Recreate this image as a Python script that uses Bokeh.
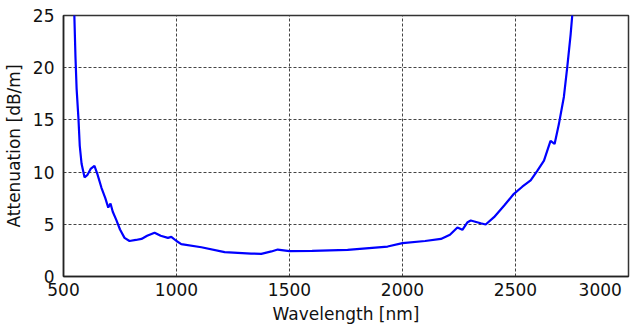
from bokeh.plotting import figure
from bokeh.models import Range1d, FixedTicker
from bokeh.embed import file_html
from bokeh.resources import INLINE

wavelength_nm = [540, 548, 553, 558, 566, 572, 580, 593, 605, 620, 637, 650, 668, 685, 698, 708,
                 718, 734, 750, 770, 792, 820, 845, 870, 903, 930, 962, 977, 1000, 1021, 1110,
                 1213, 1330, 1375, 1420, 1448, 1500, 1600, 1757, 1934, 2000, 2100, 2170, 2210,
                 2243, 2265, 2288, 2302, 2346, 2368, 2405, 2450, 2493, 2530, 2567, 2597, 2626,
                 2655, 2673, 2692, 2714, 2729, 2744, 2751, 2760]
attenuation_db_m = [30, 25, 21, 18, 15.2, 12.5, 10.8, 9.5, 9.7, 10.3, 10.6, 9.8, 8.5, 7.5, 6.6, 7.0,
                    6.2, 5.4, 4.5, 3.7, 3.4, 3.5, 3.6, 3.9, 4.2, 3.9, 3.7, 3.8, 3.4, 3.1, 2.8,
                    2.33, 2.2, 2.17, 2.4, 2.58, 2.43, 2.45, 2.55, 2.87, 3.19, 3.4, 3.6, 4.0,
                    4.7, 4.47, 5.2, 5.36, 5.1, 4.98, 5.68, 6.8, 7.92, 8.6, 9.2, 10.15, 11.1,
                    13.0, 12.7, 14.6, 17.2, 20.05, 23.2, 25, 30]

x_ticks = [500, 1000, 1500, 2000, 2500, 3000]
y_ticks = [0, 5, 10, 15, 20, 25]

FONT = "DejaVu Sans"
NBSP = "\u00a0"

p = figure(width=643, height=329, output_backend="svg", toolbar_location=None,
           x_range=Range1d(500, 3000), y_range=Range1d(0, 25),
           min_border_left=62, min_border_top=15, min_border_right=15, min_border_bottom=53)

p.line(wavelength_nm, attenuation_db_m, line_color="#0000ff", line_width=2.2)

p.xaxis.ticker = FixedTicker(ticks=x_ticks)
p.yaxis.ticker = FixedTicker(ticks=y_ticks)
# last label padded so that its visible digits stay inside the canvas
p.xaxis.major_label_overrides = {x_ticks[-1]: str(x_ticks[-1]) + NBSP * 4}
p.xaxis.axis_label = "Wavelength [nm]"
p.yaxis.axis_label = "Attenuation [dB/m]"

for ax in (p.xaxis, p.yaxis):
    ax.major_label_text_font = FONT
    ax.major_label_text_font_size = "17px"
    ax.major_label_text_color = "#111111"
    ax.axis_label_text_font = FONT
    ax.axis_label_text_font_size = "17px"
    ax.axis_label_text_font_style = "normal"
    ax.axis_label_text_color = "#111111"
    ax.major_tick_out = 0
    ax.major_tick_in = 0
    ax.minor_tick_out = 0
    ax.minor_tick_in = 0
    ax.axis_line_color = "#222222"
    ax.axis_line_width = 1.5

p.xaxis.major_label_standoff = 3
p.xaxis.axis_label_standoff = 1
p.yaxis.major_label_standoff = 9
p.yaxis.axis_label_standoff = 6

for g in (p.xgrid, p.ygrid):
    g.grid_line_color = "#444444"
    g.grid_line_dash = "3 2"
    g.grid_line_width = 1

p.outline_line_color = "#333333"
p.outline_line_width = 1.5
p.background_fill_color = "white"
p.border_fill_color = "white"

open("out.html", "w").write(file_html(p, INLINE))
